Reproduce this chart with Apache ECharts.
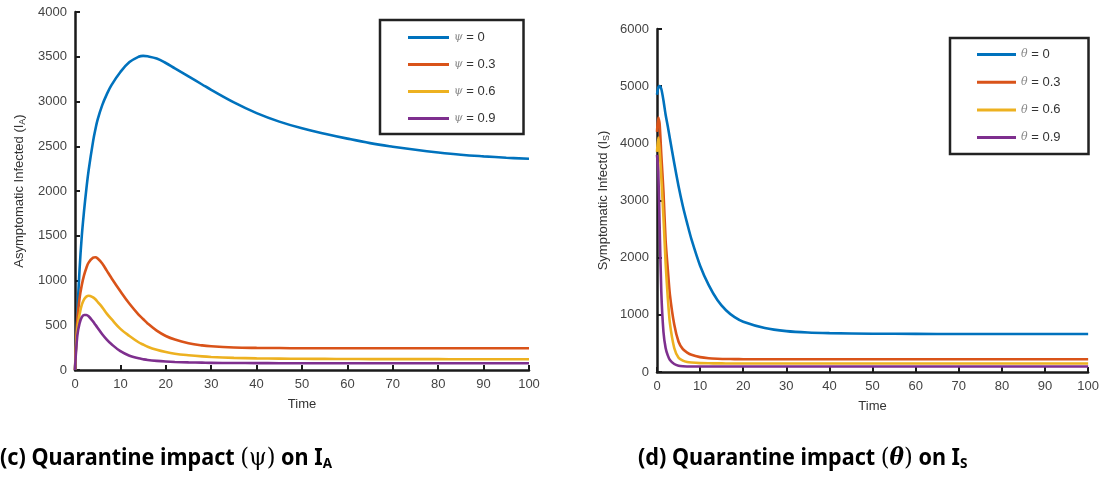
<!DOCTYPE html>
<html>
<head>
<meta charset="utf-8">
<script src="https://cdn.jsdelivr.net/npm/echarts@6/dist/echarts.min.js"></script>
<style>
  html, body { margin: 0; padding: 0; background: #fff; }
  #chart { width: 1102px; height: 478px; }
</style>
</head>
<body>
<div id="chart"></div>
<script>
// (c) asymptomatic infected, quarantine psi
const timeA = [0, 0.5, 1, 1.5, 2, 2.5, 3, 4, 4.5, 5, 6, 7, 8, 10, 12, 14, 15, 16, 18, 20, 22, 25, 28, 30, 35, 40, 45, 50, 55, 60, 65, 70, 75, 80, 85, 90, 95, 100];
const psi0 = [0, 600, 1120, 1500, 1780, 2020, 2230, 2560, 2690, 2800, 2960, 3080, 3180, 3330, 3440, 3500, 3510, 3505, 3480, 3430, 3370, 3280, 3190, 3130, 2990, 2870, 2775, 2700, 2640, 2585, 2535, 2495, 2460, 2430, 2405, 2387, 2372, 2360];
const psi03 = [0, 550, 800, 950, 1060, 1140, 1200, 1255, 1260, 1245, 1190, 1110, 1030, 880, 740, 620, 570, 520, 440, 380, 340, 300, 275, 265, 252, 247, 245, 243, 243, 243, 243, 243, 243, 243, 243, 243, 243, 243];
const psi06 = [0, 450, 620, 730, 790, 820, 830, 810, 790, 760, 700, 630, 570, 460, 380, 310, 285, 260, 225, 200, 182, 165, 152, 146, 136, 130, 127, 125, 124, 123, 122, 122, 121, 121, 120, 120, 120, 120];
const psi09 = [0, 380, 520, 590, 615, 615, 600, 540, 505, 470, 400, 340, 290, 210, 160, 130, 120, 112, 102, 95, 90, 85, 82, 80, 78, 77, 76, 75, 75, 75, 75, 75, 75, 75, 75, 75, 75, 75];

// (d) symptomatic infected, quarantine theta
const timeS = [0, 0.3, 0.6, 1, 1.5, 2, 2.5, 3, 4, 5, 6, 7, 8, 10, 12, 14, 16, 18, 20, 25, 30, 35, 40, 50, 60, 70, 80, 90, 100];
const theta0 = [4850, 4980, 5000, 4950, 4750, 4500, 4300, 4080, 3650, 3250, 2900, 2600, 2320, 1860, 1520, 1260, 1080, 960, 880, 770, 715, 690, 680, 670, 667, 665, 665, 665, 665];
const theta03 = [4200, 4450, 4350, 3800, 3150, 2300, 1800, 1350, 830, 530, 400, 340, 300, 260, 240, 232, 228, 225, 224, 223, 222, 222, 222, 222, 222, 222, 222, 222, 222];
const theta06 = [3850, 4100, 3900, 3400, 2700, 1900, 1300, 850, 420, 250, 200, 175, 165, 155, 152, 151, 150, 150, 150, 150, 150, 150, 150, 150, 150, 150, 150, 150, 150];
const theta09 = [3800, 3500, 2600, 1400, 700, 420, 290, 210, 140, 110, 100, 97, 96, 95, 95, 95, 95, 95, 95, 95, 95, 95, 95, 95, 95, 95, 95, 95, 95];

const namesA = ["ψ = 0", "ψ = 0.3", "ψ = 0.6", "ψ = 0.9"];
const namesS = ["θ = 0", "θ = 0.3", "θ = 0.6", "θ = 0.9"];
const colors = ["#0072BD", "#D95319", "#EDB120", "#7E2F8E"];

const pairs = (xs, ys) => xs.map((x, i) => [x, ys[i]]);

const axisFont = "Liberation Sans";

function xAxisFor(gridIndex) {
    return {
        type: "value",
        gridIndex: gridIndex,
        min: 0,
        max: 100,
        interval: 10,
        name: "Time",
        nameLocation: "middle",
        nameGap: 28,
        nameTextStyle: {fontFamily: axisFont, fontSize: 13, color: "#333"},
        axisLine: {show: true, onZero: false, lineStyle: {color: "#1a1a1a", width: 2.5}},
        axisTick: {show: true, inside: true, length: 5, lineStyle: {color: "#1a1a1a", width: 2}},
        axisLabel: {fontFamily: axisFont, fontSize: 13, color: "#444", margin: 8},
        splitLine: {show: false},
    };
}

function yAxisFor(gridIndex, max, interval, name, gap) {
    return {
        type: "value",
        gridIndex: gridIndex,
        min: 0,
        max: max,
        interval: interval,
        name: name,
        nameLocation: "middle",
        nameGap: gap,
        nameTextStyle: {
            fontFamily: axisFont, fontSize: 13, color: "#333",
            rich: {sub: {fontFamily: axisFont, fontSize: 9, color: "#333", padding: [6, 0, 0, 0]}},
        },
        axisLine: {show: true, onZero: false, lineStyle: {color: "#1a1a1a", width: 2.5}},
        axisTick: {show: true, inside: true, length: 5, lineStyle: {color: "#1a1a1a", width: 2}},
        axisLabel: {fontFamily: axisFont, fontSize: 13, color: "#444", margin: 8, formatter: (v) => String(v)},
        splitLine: {show: false},
    };
}

function legendFor(names, left, top, pad, gap, itemWidth, sym) {
    return {
        data: names,
        orient: "vertical",
        left: left,
        top: top,
        padding: pad,
        itemGap: gap,
        itemWidth: itemWidth,
        itemHeight: 3,
        icon: "rect",
        borderColor: "#222",
        borderWidth: 2.5,
        borderRadius: 0,
        backgroundColor: "#fff",
        formatter: (n) => "{s|" + sym + "} " + n.slice(2),
        textStyle: {
            fontFamily: axisFont, fontSize: 13, color: "#333",
            rich: {s: {fontFamily: "DejaVu Serif", fontStyle: "italic", fontSize: 11, color: "#888"}},
        },
    };
}

function lineSeries(name, xs, ys, color, idx, smooth) {
    return {
        type: "line",
        name: name,
        xAxisIndex: idx,
        yAxisIndex: idx,
        data: pairs(xs, ys),
        showSymbol: false,
        smooth: smooth,
        lineStyle: {color: color, width: 2.6},
        itemStyle: {color: color},
        z: 3,
    };
}

const seriesA = [psi0, psi03, psi06, psi09].map((ys, i) => lineSeries(namesA[i], timeA, ys, colors[i], 0, 0.4));
const seriesS = [theta0, theta03, theta06, theta09].map((ys, i) => lineSeries(namesS[i], timeS, ys, colors[i], 1, 0.25));

const captionRich = {
    b: {fontFamily: "Noto Sans", fontWeight: "bold", fontSize: 24, color: "#111"},
    p: {fontFamily: "DejaVu Serif", fontSize: 25, color: "#111"},
    t: {fontFamily: "DejaVu Serif", fontStyle: "italic", fontWeight: "bold", fontSize: 24, color: "#111"},
    s: {fontFamily: "Noto Sans", fontWeight: "bold", fontSize: 15, color: "#111", padding: [11, 0, 0, 0]},
};

const option = {
    animation: false,
    backgroundColor: "#fff",
    grid: [
        {left: 75, top: 12, width: 454, height: 358},
        {left: 657, top: 29, width: 433, height: 343},
    ],
    xAxis: [xAxisFor(0), xAxisFor(1)],
    yAxis: [
        yAxisFor(0, 4000, 500, "Asymptomatic Infected (I{sub|A})", 48),
        yAxisFor(1, 6000, 1000, "Symptomatic Infectd (I{sub|S})", 46),
    ],
    legend: [
        legendFor(namesA, 380, 20, [11, 28, 9, 28], 14, 41, "ψ"),
        legendFor(namesS, 950, 38, [10, 28, 10, 27], 14.7, 39, "θ"),
    ],
    graphic: [
        {
            type: "text", left: 0, top: 446, scaleX: 0.9,
            style: {text: "{b|(c) Quarantine impact }{p|(ψ)}{b| on I}{s|A}", rich: captionRich},
        },
        {
            type: "text", left: 638, top: 446, scaleX: 0.9,
            style: {text: "{b|(d) Quarantine impact }{p|(}{t|θ}{p|)}{b| on I}{s|S}", rich: captionRich},
        },
    ],
    series: seriesA.concat(seriesS),
};

const myChart = echarts.init(document.getElementById("chart"), null, {renderer: "canvas"});
myChart.setOption(option);
</script>
</body>
</html>
